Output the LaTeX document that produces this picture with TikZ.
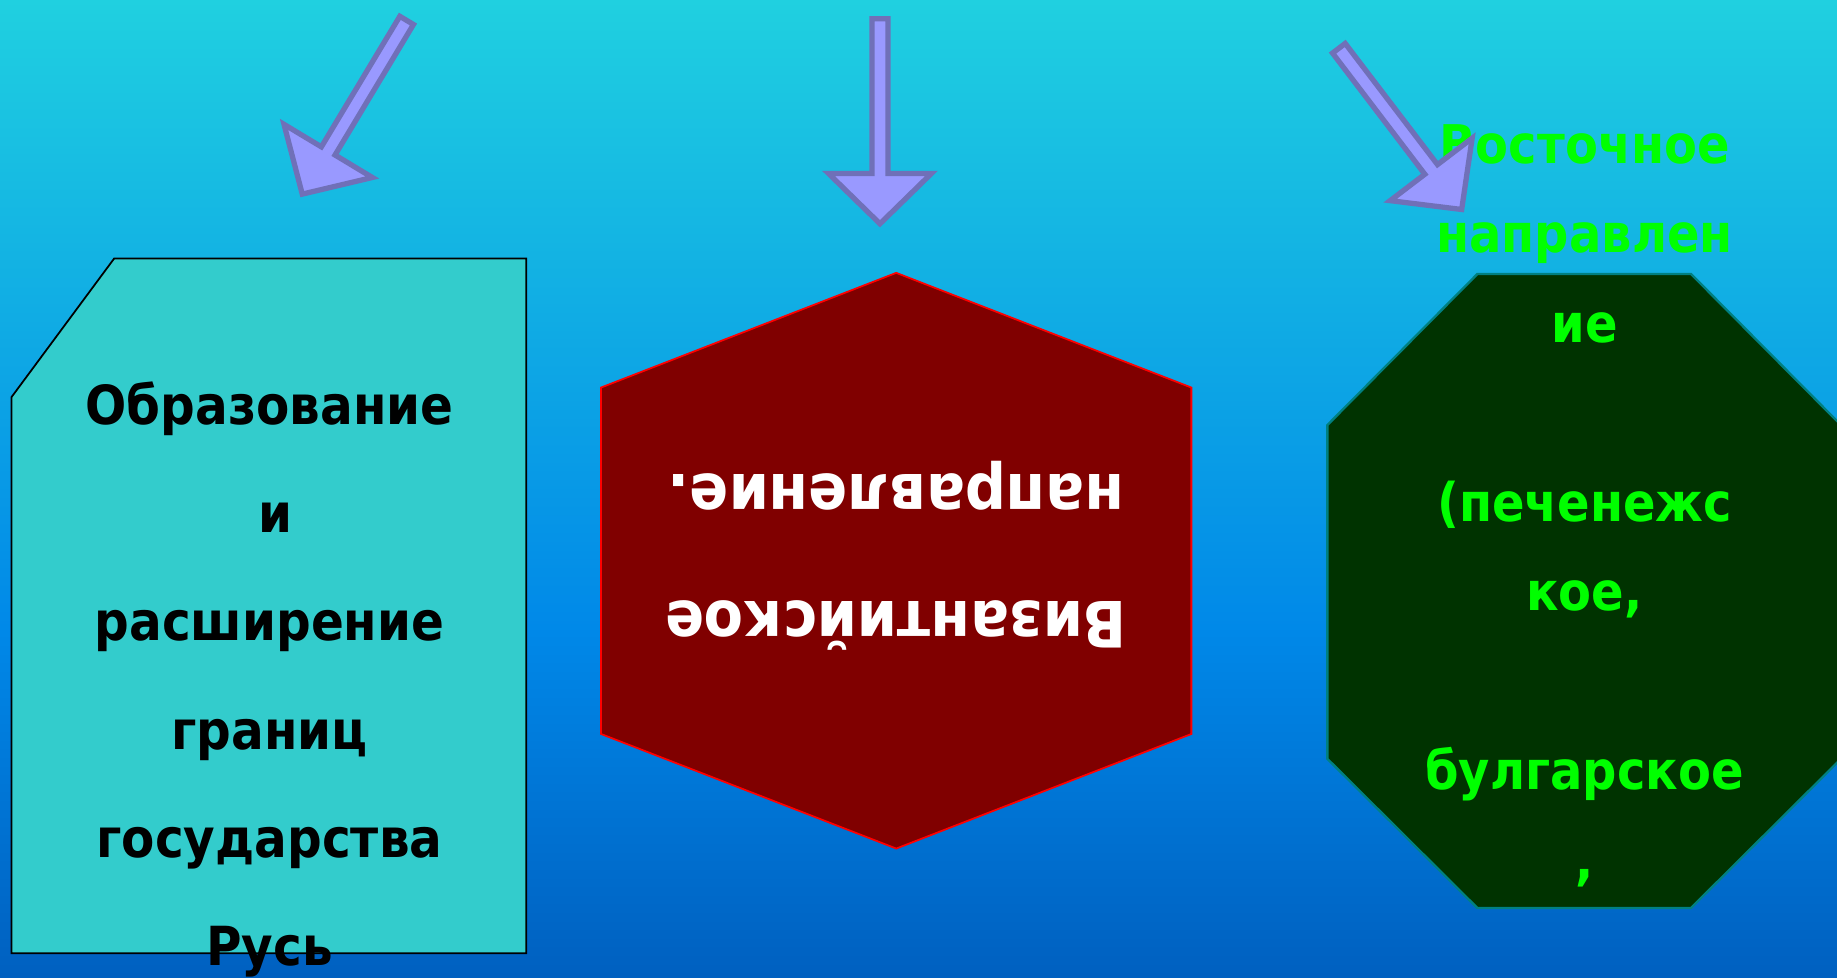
\documentclass[tikz,border=0pt]{standalone}
\usepackage{fontspec}
\newfontfamily\tfont{DejaVu Sans}[FakeStretch=0.9]
\definecolor{bgtop}{RGB}{32,208,224}
\definecolor{bgmid}{RGB}{0,136,232}
\definecolor{bgbot}{RGB}{0,96,192}
\definecolor{boxteal}{RGB}{51,204,204}
\definecolor{hexred}{RGB}{128,0,0}
\definecolor{octgreen}{RGB}{0,51,0}
\definecolor{octline}{RGB}{0,128,128}
\definecolor{txtgreen}{RGB}{0,255,0}
\definecolor{arrfill}{RGB}{153,153,255}
\definecolor{arrline}{RGB}{112,112,184}
\tikzset{
  blockarrow/.style={fill=arrfill, draw=arrline, line width=4.5pt, line join=miter},
  basetxt/.style={anchor=base, inner sep=0pt, outer sep=0pt},
  lefttxt/.style={basetxt, text=black, font=\tfont\bfseries\fontsize{46}{50}\selectfont},
  midtxt/.style={basetxt, rotate=180, text=white, font=\tfont\bfseries\fontsize{54.5}{60}\selectfont},
  righttxt/.style={basetxt, text=txtgreen, font=\tfont\bfseries\fontsize{45.5}{50}\selectfont},
}
\begin{document}
\begin{tikzpicture}[x=1pt,y=-1pt]
\useasboundingbox (0,0) rectangle (1568,834);
% background
\shade[top color=bgtop, bottom color=bgmid] (0,0) rectangle (1568,541);
\shade[top color=bgmid, bottom color=bgbot] (0,540) rectangle (1568,834);
% left box
\draw[fill=boxteal, draw=black, line width=1.5pt] (97.4,220.7) -- (449.1,220.7) -- (449.1,813.6) -- (9.8,813.6) -- (9.8,339) -- cycle;
% middle hexagon
\draw[fill=hexred, draw=red, line width=1.5pt] (765,232.9) -- (1016.9,330.8) -- (1016.9,626.5) -- (765,724.3) -- (513,626.5) -- (513,330.8) -- cycle;
% right octagon
\draw[fill=octgreen, draw=octline, line width=2pt] (1261,233.9) -- (1443.4,233.9) -- (1571.4,362.8) -- (1571.4,647.7) -- (1443.4,775) -- (1261,775) -- (1133,647.7) -- (1133,362.8) -- cycle;
% left text
\node[lefttxt] (l1) at (230,362) {Образование};
\node[lefttxt] (l2) at (235,454.5) {и};
\node[lefttxt] (l3) at (230,547) {расширение};
\node[lefttxt] (l4) at (230,639.5) {границ};
\node[lefttxt] (l5) at (230,732) {государства};
\node[lefttxt] (l6) at (230,824.5) {Русь};
% middle text (upside down)
\begin{scope}
\clip (513,380) rectangle (1017,555);
\node[midtxt] (m1) at (765,513.5) {Византийское};
\node[midtxt] (m2) at (765,405.4) {направление.};
\end{scope}
% right text
\node[righttxt] (r1) at (1352.5,139.4) {Восточное};
\node[righttxt] (r2) at (1352.5,215.8) {направлен};
\node[righttxt] (r3) at (1352.5,292.2) {ие};
\node[righttxt] (r5) at (1352.5,445.0) {(печенежс};
\node[righttxt] (r6) at (1352.5,521.4) {кое,};
\node[righttxt] (r8) at (1352.5,674.2) {булгарское};
\node[righttxt] (r9) at (1352.5,750.6) {,};
% block arrows
\draw[blockarrow, shift={(347.1,17.4)}, rotate=-121] (0,-6.8) -- (130,-6.8) -- (130,-44) -- (173,0) -- (130,44) -- (130,6.8) -- (0,6.8) -- cycle;
\draw[blockarrow, shift={(751.1,16)}, rotate=-90] (0,-6.8) -- (132,-6.8) -- (132,-44) -- (175,0) -- (132,44) -- (132,6.8) -- (0,6.8) -- cycle;
\draw[blockarrow, shift={(1142.8,41.2)}, rotate=-52.7] (0,-6.8) -- (130,-6.8) -- (130,-44) -- (173,0) -- (130,44) -- (130,6.8) -- (0,6.8) -- cycle;
\end{tikzpicture}
\end{document}
